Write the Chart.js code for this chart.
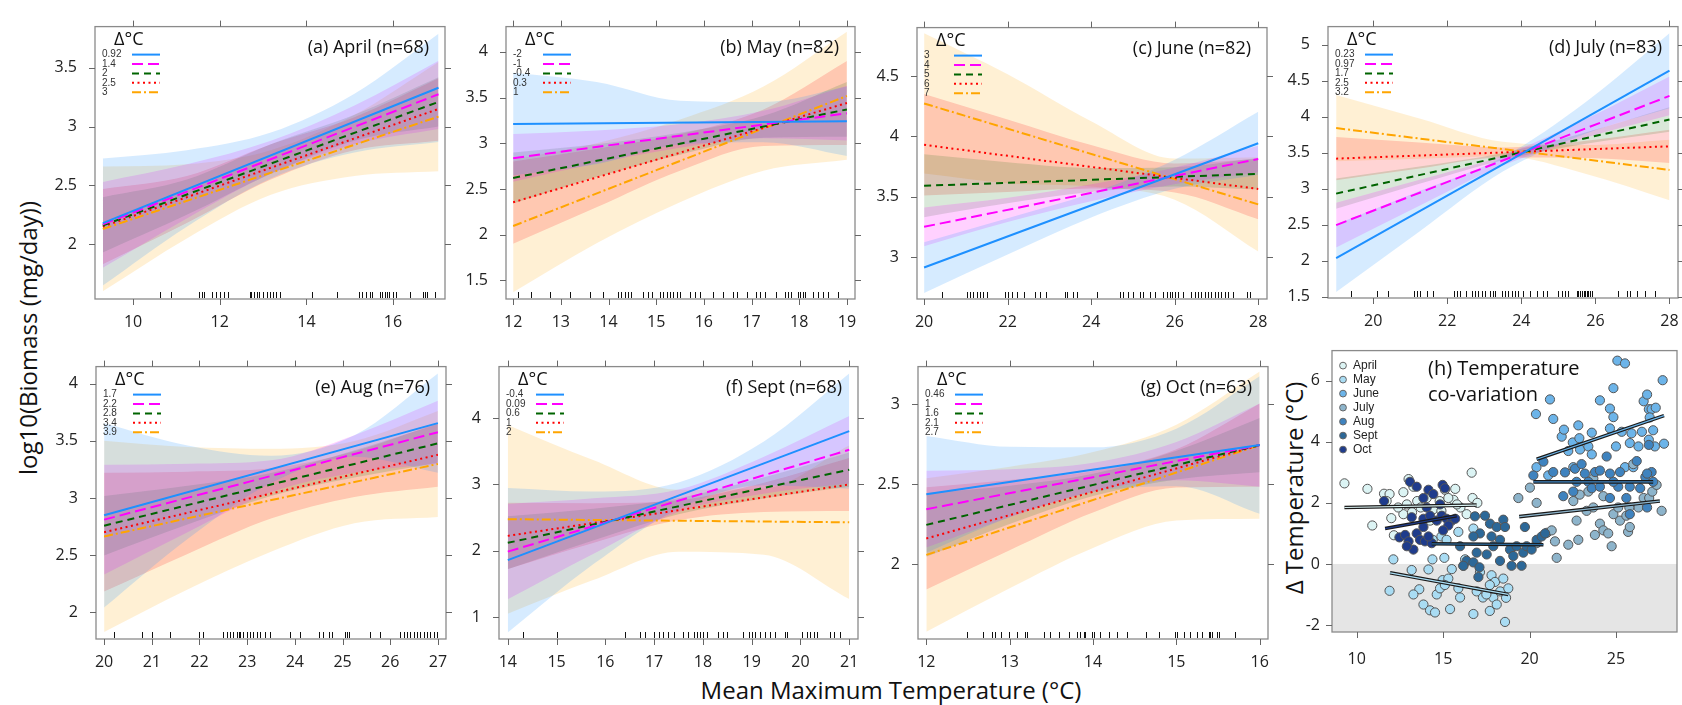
<!DOCTYPE html>
<html>
<head>
<meta charset="utf-8">
<script src="https://cdn.jsdelivr.net/npm/chart.js@4.4.1/dist/chart.umd.min.js"></script>
<style>
  body { margin: 0; background: #fff; width: 1682px; height: 705px; position: relative; overflow: hidden; font-family: 'Open Sans', sans-serif; }
  canvas { position: absolute; }
  .lbl { position: absolute; white-space: nowrap; color: #111; font-size: 24px; transform: translate(-50%, -50%); }
  .rot { transform: translate(-50%, -50%) rotate(-90deg); }
</style>
</head>
<body>
<div class="lbl rot" style="left:27px; top:338px;">log10(Biomass (mg/day))</div>
<div class="lbl" style="left:891px; top:689px;">Mean Maximum Temperature (°C)</div>
<div class="lbl rot" style="left:1293px; top:488px;">Δ Temperature (°C)</div>
<script>
// ---- data: effect panels (a)-(g) ----
// each panel: 5 Δ°C levels; fit = [start, end] of the fitted line, lo/hi = band edges at the x points
const aprDelta = ['0.92', '1.4', '2', '2.5', '3'];
const aprX = [9.3, 11.24, 13.18, 15.11, 17.05];
const aprFit = [[2.18, 3.33], [2.17, 3.275], [2.16, 3.21], [2.15, 3.15], [2.13, 3.085]];
const aprLo = [[1.65, 2.15, 2.56, 2.78, 2.87], [1.80, 2.22, 2.60, 2.85, 2.98], [1.93, 2.25, 2.60, 2.88, 3.00], [1.83, 2.18, 2.55, 2.80, 2.88], [1.60, 2.05, 2.42, 2.58, 2.62]];
const aprHi = [[2.73, 2.80, 2.95, 3.28, 3.79], [2.53, 2.68, 2.88, 3.18, 3.56], [2.40, 2.55, 2.85, 3.10, 3.42], [2.47, 2.58, 2.85, 3.08, 3.41], [2.66, 2.68, 2.80, 3.10, 3.55]];
const aprRug = [10.62, 10.88, 11.52, 11.58, 11.63, 11.81, 11.91, 12.0, 12.09, 12.19, 12.69, 12.73, 12.78, 12.85, 12.91, 13.0, 13.08, 13.15, 13.23, 13.31, 13.38, 14.12, 14.71, 15.22, 15.29, 15.38, 15.46, 15.52, 15.69, 15.75, 15.81, 15.87, 15.91, 16.0, 16.08, 16.4, 16.69, 16.73, 16.79, 16.96];
const aprXTicks = [10, 12, 14, 16];
const aprYTicks = [2, 2.5, 3, 3.5];

const mayDelta = ['-2', '-1', '-0.4', '0.3', '1'];
const mayX = [12, 13.75, 15.5, 17.25, 19];
const mayFit = [[3.21, 3.24], [2.837, 3.327], [2.62, 3.37], [2.354, 3.44], [2.095, 3.517]];
const mayLo = [[2.65, 2.77, 2.985, 3.01, 2.86], [2.58, 2.78, 2.95, 3.055, 3.03], [2.34, 2.63, 2.875, 3.06, 3.07], [1.90, 2.30, 2.70, 2.97, 2.98], [1.37, 1.905, 2.355, 2.70, 2.82]];
const mayHi = [[3.77, 3.67, 3.465, 3.45, 3.62], [3.10, 3.14, 3.21, 3.355, 3.63], [2.90, 2.99, 3.115, 3.30, 3.67], [2.80, 2.94, 3.10, 3.37, 3.90], [2.82, 3.0, 3.26, 3.62, 4.22]];
const mayRug = [12.1, 12.38, 12.77, 13.19, 13.61, 13.89, 14.2, 14.27, 14.34, 14.41, 14.48, 14.73, 14.83, 14.92, 15.08, 15.15, 15.22, 15.29, 15.36, 15.43, 15.5, 15.71, 15.81, 15.92, 16.2, 16.41, 16.62, 16.69, 16.9, 17.1, 17.17, 17.28, 17.52, 17.7, 17.77, 17.82, 17.98, 18.01, 18.08, 18.12, 18.29, 18.4, 18.5, 18.61, 18.82];
const mayXTicks = [12, 13, 14, 15, 16, 17, 18, 19];
const mayYTicks = [1.5, 2, 2.5, 3, 3.5, 4];

const junDelta = ['3', '4', '5', '6', '7'];
const junX = [20, 22, 24, 26, 28];
const junFit = [[2.916, 3.944], [3.253, 3.814], [3.592, 3.691], [3.931, 3.566], [4.273, 3.438]];
const junLo = [[2.706, 3.023, 3.33, 3.567, 3.684], [3.093, 3.293, 3.464, 3.604, 3.704], [3.332, 3.447, 3.54, 3.586, 3.561], [3.511, 3.54, 3.569, 3.537, 3.316], [3.693, 3.614, 3.586, 3.477, 3.048]];
const junHi = [[3.126, 3.323, 3.53, 3.807, 4.204], [3.413, 3.493, 3.604, 3.744, 3.924], [3.852, 3.787, 3.74, 3.746, 3.821], [4.351, 4.14, 3.929, 3.777, 3.816], [4.853, 4.514, 4.126, 3.817, 3.828]];
const junRug = [20.42, 21.02, 21.1, 21.18, 21.26, 21.34, 21.42, 21.5, 21.94, 22.02, 22.1, 22.22, 22.38, 22.66, 22.78, 22.93, 23.37, 23.41, 23.57, 23.65, 24.13, 24.69, 24.77, 24.89, 25.01, 25.17, 25.25, 25.41, 25.53, 25.73, 25.81, 25.89, 25.93, 26.0, 26.08, 26.2, 26.4, 26.48, 26.56, 26.64, 26.72, 26.8, 26.88, 26.96, 27.04, 27.12, 27.2, 27.28, 27.4, 27.72, 27.8];
const junXTicks = [20, 22, 24, 26, 28];
const junYTicks = [3, 3.5, 4, 4.5];

const julDelta = ['0.23', '0.97', '1.7', '2.5', '3.2'];
const julX = [19, 21.25, 23.5, 25.75, 28];
const julFit = [[2.034, 4.637], [2.493, 4.287], [2.93, 3.959], [3.416, 3.587], [3.84, 3.259]];
const julLo = [[1.564, 2.405, 3.236, 3.766, 4.117], [2.183, 2.762, 3.32, 3.709, 4.017], [2.72, 3.067, 3.395, 3.622, 3.789], [3.116, 3.279, 3.432, 3.424, 3.357], [3.38, 3.415, 3.45, 3.204, 2.839]];
const julHi = [[2.504, 2.965, 3.436, 4.206, 5.157], [2.803, 3.122, 3.46, 3.969, 4.557], [3.14, 3.307, 3.495, 3.782, 4.129], [3.716, 3.639, 3.572, 3.664, 3.817], [4.30, 3.975, 3.65, 3.604, 3.679]];
const julRug = [19.41, 20.09, 20.41, 21.1, 21.17, 21.26, 21.44, 21.62, 22.19, 22.25, 22.34, 22.5, 22.66, 22.75, 22.84, 22.93, 23.02, 23.15, 23.24, 23.29, 23.47, 23.56, 23.65, 23.74, 23.83, 23.92, 24.05, 24.23, 24.41, 24.59, 24.68, 25.0, 25.09, 25.18, 25.27, 25.5, 25.54, 25.59, 25.63, 25.68, 25.72, 25.77, 25.81, 25.86, 25.9, 26.62, 26.85, 26.94, 27.12, 27.34, 27.61];
const julXTicks = [20, 22, 24, 26, 28];
const julYTicks = [1.5, 2, 2.5, 3, 3.5, 4, 4.5, 5];

const augDelta = ['1.7', '2.2', '2.8', '3.4', '3.9'];
const augX = [20, 21.75, 23.5, 25.25, 27];
const augFit = [[2.848, 3.655], [2.81, 3.575], [2.757, 3.478], [2.70, 3.378], [2.663, 3.298]];
const augLo = [[2.04, 2.64, 3.13, 3.36, 3.22], [2.33, 2.70, 3.05, 3.22, 3.30], [2.497, 2.767, 3.018, 3.178, 3.308], [2.18, 2.51, 2.819, 3.008, 3.098], [1.826, 2.199, 2.53, 2.779, 2.834]];
const augHi = [[3.655, 3.46, 3.37, 3.55, 4.09], [3.29, 3.30, 3.33, 3.55, 3.85], [3.017, 3.107, 3.218, 3.418, 3.648], [3.22, 3.23, 3.259, 3.408, 3.658], [3.5, 3.445, 3.43, 3.499, 3.762]];
const augRug = [20.2, 20.79, 21.0, 21.38, 21.98, 22.08, 22.5, 22.57, 22.64, 22.71, 22.78, 22.82, 22.85, 22.92, 22.99, 23.06, 23.13, 23.2, 23.27, 23.38, 23.48, 23.9, 24.11, 24.5, 24.6, 24.71, 24.78, 25.06, 25.09, 25.13, 25.58, 25.79, 26.21, 26.28, 26.35, 26.42, 26.49, 26.56, 26.63, 26.7, 26.77, 26.84, 26.91, 26.98];
const augXTicks = [20, 21, 22, 23, 24, 25, 26, 27];
const augYTicks = [2, 2.5, 3, 3.5, 4];

const sepDelta = ['-0.4', '0.09', '0.6', '1', '2'];
const sepX = [14, 15.75, 17.5, 19.25, 21];
const sepFit = [[1.857, 3.805], [1.986, 3.524], [2.119, 3.224], [2.224, 3.0], [2.476, 2.429]];
const sepLo = [[0.767, 1.794, 2.631, 2.988, 2.935], [1.266, 1.951, 2.585, 2.86, 3.014], [1.719, 2.155, 2.552, 2.788, 2.964], [1.724, 2.118, 2.462, 2.586, 2.6], [1.05, 1.557, 1.986, 1.94, 1.27]];
const sepHi = [[2.947, 2.894, 3.031, 3.648, 4.675], [2.706, 2.791, 2.925, 3.42, 4.034], [2.519, 2.635, 2.792, 3.108, 3.484], [2.724, 2.718, 2.762, 3.026, 3.4], [3.90, 3.37, 2.92, 2.94, 3.59]];
const sepRug = [14.32, 15.0, 16.41, 16.71, 16.82, 16.99, 17.09, 17.19, 17.29, 17.4, 17.6, 17.7, 17.81, 17.88, 17.95, 18.01, 18.08, 18.32, 18.42, 18.49, 18.83, 18.94, 19.0, 19.07, 19.17, 19.28, 19.38, 19.48, 19.69, 19.72, 20.03, 20.13, 20.2, 20.27, 20.34, 20.61, 20.68, 20.81];
const sepXTicks = [14, 15, 16, 17, 18, 19, 20, 21];
const sepYTicks = [1, 2, 3, 4];

const octDelta = ['0.46', '1', '1.6', '2.1', '2.7'];
const octX = [12, 13, 14, 15, 16];
const octFit = [[2.438, 2.746], [2.345, 2.746], [2.247, 2.746], [2.162, 2.746], [2.059, 2.746]];
const octLo = [[2.073, 2.295, 2.452, 2.489, 2.316], [2.105, 2.295, 2.456, 2.526, 2.486], [2.047, 2.252, 2.427, 2.531, 2.576], [1.842, 2.088, 2.324, 2.48, 2.486], [1.579, 1.851, 2.103, 2.274, 2.286]];
const octHi = [[2.803, 2.735, 2.732, 2.849, 3.176], [2.585, 2.595, 2.636, 2.766, 3.006], [2.447, 2.492, 2.567, 2.711, 2.916], [2.482, 2.528, 2.584, 2.72, 3.006], [2.539, 2.611, 2.703, 2.874, 3.206]];
const octRug = [12.49, 12.68, 12.79, 12.83, 12.89, 12.99, 13.09, 13.19, 13.21, 13.41, 13.49, 13.59, 13.71, 13.81, 13.85, 13.89, 13.91, 13.99, 14.01, 14.09, 14.19, 14.29, 14.41, 14.63, 14.79, 14.99, 15.01, 15.09, 15.17, 15.25, 15.31, 15.39, 15.41, 15.43, 15.49, 15.51, 15.71];
const octXTicks = [12, 13, 14, 15, 16];
const octYTicks = [2, 2.5, 3];

// ---- data: panel (h) temperature co-variation, [max temp, Δ temp] ----
const monthNames = ['April', 'May', 'June', 'July', 'Aug', 'Sept', 'Oct'];
const aprilPts = [[9.29,2.64],[10.62,2.46],[10.9,1.26],[11.58,2.30],[11.9,2.29],[11.73,2.06],[12.0,1.5],[12.15,0.94],[12.7,2.35],[13.0,2.78],[13.28,2.53],[12.9,1.95],[12.7,1.63],[13.2,1.69],[13.5,2.06],[13.7,1.85],[14.25,1.42],[15.1,2.43],[15.7,2.46],[15.6,2.1],[16.0,1.85],[16.65,2.99],[16.7,2.16],[16.98,2.0],[16.36,1.63],[14.8,2.06],[14.43,1.79],[12.4,1.85],[14.05,2.16],[15.3,2.16],[15.8,1.95],[14.9,1.74]];
const mayPts = [[12.12,0.15],[11.9,-0.88],[13.18,-0.2],[13.62,-0.83],[13.86,-1.33],[14.24,-1.52],[14.53,-1.59],[14.15,-0.18],[14.38,0.15],[15.07,0.2],[14.63,-1.0],[14.82,-0.8],[14.97,-0.53],[15.3,-0.48],[15.4,-1.48],[15.5,-0.17],[15.88,-0.8],[16.17,-0.06],[16.75,-1.64],[16.94,-0.9],[17.13,-0.27],[17.3,-1.1],[17.7,-1.54],[17.8,-0.37],[17.9,-1.1],[18.0,-0.59],[18.1,-1.33],[18.3,-0.9],[18.64,-1.11],[18.77,-0.8],[18.58,-1.9],[18.48,-0.48],[17.7,-0.69],[17.5,-1.0],[15.1,-0.69],[15.98,-1.1],[13.28,-1.0],[14.4,0.79],[14.9,0.9],[15.2,0.79],[15.88,1.05],[16.75,1.16],[16.27,0.15]];
const junePts = [[20.37,4.91],[21.18,5.39],[21.37,4.75],[21.86,4.17],[21.99,4.4],[22.5,3.98],[22.82,4.54],[22.88,4.12],[22.24,3.7],[22.92,3.75],[23.6,4.3],[23.4,3.85],[23.6,3.59],[24.07,5.36],[24.65,5.09],[24.85,5.76],[24.85,4.81],[24.65,4.44],[25.0,3.85],[25.08,6.66],[25.52,6.57],[25.33,4.33],[25.9,4.28],[25.8,3.96],[26.3,3.85],[26.5,4.33],[26.6,5.33],[26.8,5.55],[26.9,5.07],[27.06,5.07],[27.3,5.12],[26.95,4.8],[27.15,4.38],[26.9,4.07],[27.25,3.85],[27.7,6.02],[27.78,3.94],[25.52,3.17],[21.08,2.9],[22.53,3.17],[26.0,3.17],[20.4,3.17]];
const julyPts = [[19.35,2.16],[20.02,2.5],[20.41,2.0],[21.0,1.02],[21.28,1.1],[21.47,0.74],[21.57,0.2],[22.24,0.63],[22.82,0.79],[22.72,1.42],[22.53,2.06],[23.3,1.74],[23.4,2.37],[23.69,1.85],[23.78,0.95],[24.07,1.32],[24.27,1.1],[24.55,1.0],[24.75,0.58],[24.85,1.63],[25.13,1.85],[25.23,1.42],[25.6,1.58],[25.7,1.05],[25.8,1.21],[26.0,3.27],[26.3,1.85],[26.6,2.16],[26.92,2.16],[27.1,2.37],[27.35,2.59],[27.64,1.74],[24.27,2.22],[22.9,2.27],[23.69,2.8],[25.77,1.85],[20.41,0.68]];
const augPts = [[20.22,2.9],[20.8,3.35],[21.37,3.01],[21.95,2.22],[22.05,3.0],[22.63,3.12],[22.72,2.69],[23.01,3.27],[23.2,2.96],[23.4,2.69],[23.6,2.48],[23.79,3.01],[24.07,2.53],[24.46,3.52],[24.65,2.96],[24.65,2.16],[25.13,2.53],[25.23,3.01],[25.6,2.16],[25.8,2.53],[26.2,3.37],[26.4,2.48],[26.8,1.85],[26.7,2.85],[26.9,3.9],[27.06,3.01],[27.15,2.69],[24.07,3.06],[22.53,2.37],[24.85,2.69],[25.8,1.63],[26.8,2.96]];
const septPts = [[16.84,1.56],[17.42,1.58],[17.71,1.32],[18.1,1.21],[18.48,1.45],[18.58,1.21],[17.13,1.0],[16.75,0.9],[17.8,0.9],[18.29,0.79],[17.9,0.58],[16.94,0.37],[16.36,0.1],[16.75,0.05],[16.17,-0.06],[17.1,-0.11],[17.04,-0.43],[17.52,0.31],[18.29,0.1],[18.87,0.47],[19.06,0.26],[19.25,0.58],[19.54,-0.06],[19.64,0.37],[19.83,0.58],[19.73,1.21],[20.12,0.47],[20.41,0.79],[20.7,0.9],[20.9,1.0],[18.96,-0.06],[15.98,0.58]];
const octPts = [[11.58,2.06],[13.08,2.69],[13.47,2.53],[13.86,2.16],[14.15,2.43],[14.43,2.29],[14.97,2.59],[15.1,2.48],[14.82,1.95],[14.05,1.85],[13.18,1.53],[13.86,1.48],[14.24,1.58],[14.63,1.42],[14.92,1.58],[15.2,1.48],[15.5,1.42],[15.7,1.48],[15.3,1.26],[15.0,1.1],[12.47,0.87],[12.8,0.95],[13.0,0.74],[13.47,1.0],[13.66,0.79],[13.95,0.74],[13.28,0.47],[12.9,0.58],[14.34,0.68],[14.15,0.9],[13.86,1.21]];
// fitted trend per month: [start, end]
const aprilTrend = [[9.29,1.85],[16.94,1.93]];
const mayTrend = [[11.93,-0.29],[18.77,-1.0]];
const juneTrend = [[20.41,3.43],[27.78,4.86]];
const julyTrend = [[19.4,1.55],[27.54,2.06]];
const augTrend = [[20.22,2.69],[27.15,2.69]];
const septTrend = [[14.34,0.66],[20.8,0.63]];
const octTrend = [[11.64,1.16],[15.78,1.58]];
const covXTicks = [10, 15, 20, 25];
const covYTicks = [-2, 0, 2, 4, 6];

// ---- styles ----
const lineColor = ['#1e90ff', '#ff00ff', '#006400', '#ff0000', '#ffa500'];
const bandColor = ['rgba(30,144,255,0.18)', 'rgba(255,0,255,0.18)', 'rgba(0,100,0,0.15)', 'rgba(255,0,0,0.17)', 'rgba(255,165,0,0.17)'];
const lineDash = [[], [11, 5], [7, 5], [2, 3.5], [9, 3, 2, 3]];
const monthColor = ['#dcf4f4', '#a9dcf3', '#6cb4e9', '#8db4cb', '#3f83bf', '#2c6898', '#1f3c8c'];

Chart.defaults.font.family = "'Open Sans', sans-serif";
Chart.defaults.color = '#222';

const M = { l: 62, t: 12, r: 16, b: 34 };

function addCanvas(box) {
  const cv = document.createElement('canvas');
  cv.width = box[2] - box[0] + M.l + M.r;
  cv.height = box[3] - box[1] + M.t + M.b;
  cv.style.left = (box[0] - M.l) + 'px';
  cv.style.top = (box[1] - M.t) + 'px';
  document.body.appendChild(cv);
  return cv;
}

function axis(range, ticks, isX, pad) {
  return {
    type: 'linear', min: range[0], max: range[1],
    afterBuildTicks: s => { s.ticks = ticks.map(v => ({ value: v })); },
    afterFit: s => { if (isX) s.height = M.b; else s.width = M.l; },
    grid: { display: false, drawTicks: false },
    border: { display: false },
    ticks: { padding: pad, font: { size: 16 }, color: '#222', autoSkip: false, maxRotation: 0, callback: v => String(v) }
  };
}

function drawFrame(chart, allSides) {
  const { ctx, chartArea: a, scales } = chart;
  ctx.save();
  ctx.strokeStyle = '#8a8a8a';
  ctx.lineWidth = 1.3;
  ctx.strokeRect(a.left, a.top, a.right - a.left, a.bottom - a.top);
  ctx.strokeStyle = '#666';
  ctx.lineWidth = 1;
  ctx.beginPath();
  scales.x.ticks.forEach(t => {
    const px = Math.round(scales.x.getPixelForValue(t.value)) + 0.5;
    ctx.moveTo(px, a.bottom); ctx.lineTo(px, a.bottom + 6);
    if (allSides) { ctx.moveTo(px, a.top); ctx.lineTo(px, a.top - 6); }
  });
  scales.y.ticks.forEach(t => {
    const py = Math.round(scales.y.getPixelForValue(t.value)) + 0.5;
    ctx.moveTo(a.left, py); ctx.lineTo(a.left - 6, py);
    if (allSides) { ctx.moveTo(a.right, py); ctx.lineTo(a.right + 6, py); }
  });
  ctx.stroke();
  ctx.restore();
}

function makeEffectPanel(p) {
  const cv = addCanvas(p.box);
  const datasets = [];
  for (let i = 0; i < 5; i++) {
    datasets.push({ data: p.fit[i].map((y, k) => ({ x: p.xs[k * (p.xs.length - 1)], y })), borderColor: lineColor[i], borderWidth: 2, borderDash: lineDash[i], pointRadius: 0, fill: false, order: 0 });
  }
  for (let i = 0; i < 5; i++) {
    datasets.push({ data: p.xs.map((x, k) => ({ x, y: p.lo[i][k] })), borderColor: 'rgba(0,0,0,0)', borderWidth: 1, pointRadius: 0, fill: false, cubicInterpolationMode: 'monotone', order: 1 });
    datasets.push({ data: p.xs.map((x, k) => ({ x, y: p.hi[i][k] })), borderColor: 'rgba(0,0,0,0)', borderWidth: 1, pointRadius: 0, fill: '-1', backgroundColor: bandColor[i], cubicInterpolationMode: 'monotone', order: 1 });
  }
  new Chart(cv, {
    type: 'line',
    data: { datasets },
    options: {
      responsive: false, animation: false, devicePixelRatio: 1,
      layout: { padding: { left: 0, top: M.t, right: M.r, bottom: 0 } },
      plugins: { legend: { display: false }, tooltip: { enabled: false } },
      scales: { x: axis(p.xr, p.xt, true, 14), y: axis(p.yr, p.yt, false, 18) }
    },
    plugins: [{
      id: 'decor',
      afterDatasetsDraw(chart) {
        const { ctx, chartArea: a, scales } = chart;
        drawFrame(chart, true);
        ctx.save();
        // rug
        ctx.strokeStyle = '#111';
        ctx.lineWidth = 1;
        ctx.beginPath();
        p.rug.forEach(v => {
          const px = Math.round(scales.x.getPixelForValue(v)) + 0.5;
          ctx.moveTo(px, a.bottom - 1); ctx.lineTo(px, a.bottom - 7);
        });
        ctx.stroke();
        // title
        ctx.fillStyle = '#111';
        ctx.font = "18px 'Open Sans'";
        ctx.textBaseline = 'middle';
        ctx.textAlign = 'right';
        ctx.fillText(p.title, a.right - 16, a.top + 21);
        // legend
        ctx.textAlign = 'left';
        ctx.fillText('Δ°C', a.left + 19, a.top + 13);
        ctx.font = "10px 'Liberation Sans'";
        for (let i = 0; i < 5; i++) {
          const y = a.top + 28 + i * 9.4;
          ctx.fillStyle = '#333';
          ctx.fillText(p.delta[i], a.left + 7, y);
          ctx.strokeStyle = lineColor[i];
          ctx.lineWidth = 2;
          ctx.setLineDash(lineDash[i]);
          ctx.beginPath();
          ctx.moveTo(a.left + 37, y); ctx.lineTo(a.left + 65, y);
          ctx.stroke();
        }
        ctx.restore();
      }
    }]
  });
}

const panels = [
  { title: '(a) April (n=68)', box: [95, 11, 445, 299], delta: aprDelta, xs: aprX, fit: aprFit, lo: aprLo, hi: aprHi, rug: aprRug, xr: [9.12, 17.2], yr: [1.535, 3.85], xt: aprXTicks, yt: aprYTicks },
  { title: '(b) May (n=82)', box: [506, 11, 855, 299], delta: mayDelta, xs: mayX, fit: mayFit, lo: mayLo, hi: mayHi, rug: mayRug, xr: [11.85, 19.17], yr: [1.296, 4.276], xt: mayXTicks, yt: mayYTicks },
  { title: '(c) June (n=82)', box: [917, 12, 1267, 299], delta: junDelta, xs: junX, fit: junFit, lo: junLo, hi: junHi, rug: junRug, xr: [19.83, 28.21], yr: [2.656, 4.9], xt: junXTicks, yt: junYTicks },
  { title: '(d) July (n=83)', box: [1328, 11, 1678, 298], delta: julDelta, xs: julX, fit: julFit, lo: julLo, hi: julHi, rug: julRug, xr: [18.78, 28.23], yr: [1.48, 5.25], xt: julXTicks, yt: julYTicks },
  { title: '(e) Aug (n=76)', box: [96, 351, 446, 639], delta: augDelta, xs: augX, fit: augFit, lo: augLo, hi: augHi, rug: augRug, xr: [19.83, 27.17], yr: [1.765, 4.15], xt: augXTicks, yt: augYTicks },
  { title: '(f) Sept (n=68)', box: [499, 351, 858, 639], delta: sepDelta, xs: sepX, fit: sepFit, lo: sepLo, hi: sepHi, rug: sepRug, xr: [13.82, 21.18], yr: [0.667, 4.78], xt: sepXTicks, yt: sepYTicks },
  { title: '(g) Oct (n=63)', box: [918, 351, 1268, 639], delta: octDelta, xs: octX, fit: octFit, lo: octLo, hi: octHi, rug: octRug, xr: [11.9, 16.1], yr: [1.533, 3.237], xt: octXTicks, yt: octYTicks }
];
panels.forEach(makeEffectPanel);

// ---- panel (h) ----
(function () {
  const box = [1332, 341, 1677, 632];
  const cv = addCanvas(box);
  const pts = [aprilPts, mayPts, junePts, julyPts, augPts, septPts, octPts];
  const trends = [aprilTrend, mayTrend, juneTrend, julyTrend, augTrend, septTrend, octTrend];
  const toXY = arr => arr.map(d => ({ x: d[0], y: d[1] }));
  const datasets = [];
  trends.forEach((t, i) => {
    datasets.push({ data: toXY(t), showLine: true, borderColor: monthColor[i], borderWidth: 1.2, pointRadius: 0, order: 0 });
    datasets.push({ data: toXY(t), showLine: true, borderColor: '#1a1a1a', borderWidth: 3.6, pointRadius: 0, order: 1 });
  });
  pts.forEach((arr, i) => {
    datasets.push({ data: toXY(arr), pointRadius: 4.6, pointBackgroundColor: monthColor[i], pointBorderColor: '#555', pointBorderWidth: 1, order: 10 - i });
  });
  new Chart(cv, {
    type: 'scatter',
    data: { datasets },
    options: {
      responsive: false, animation: false, devicePixelRatio: 1,
      layout: { padding: { left: 0, top: M.t, right: M.r, bottom: 0 } },
      plugins: { legend: { display: false }, tooltip: { enabled: false } },
      scales: { x: axis([8.57, 28.53], covXTicks, true, 18), y: axis([-2.23, 6.99], covYTicks, false, 12) }
    },
    plugins: [{
      id: 'cov',
      beforeDatasetsDraw(chart) {
        const { ctx, chartArea: a, scales } = chart;
        const y0 = scales.y.getPixelForValue(0);
        ctx.save();
        ctx.fillStyle = '#e5e5e5';
        ctx.fillRect(a.left, y0, a.right - a.left, a.bottom - y0);
        ctx.restore();
      },
      afterDatasetsDraw(chart) {
        const { ctx, chartArea: a } = chart;
        drawFrame(chart, false);
        ctx.save();
        ctx.textBaseline = 'middle';
        ctx.fillStyle = '#111';
        ctx.font = "20px 'Open Sans'";
        ctx.fillText('(h) Temperature', a.left + 96, a.top + 19);
        ctx.fillText('co-variation', a.left + 96, a.top + 45);
        ctx.font = "12px 'Liberation Sans'";
        monthNames.forEach((m, i) => {
          const y = a.top + 15 + i * 14;
          ctx.beginPath();
          ctx.arc(a.left + 11, y, 3.4, 0, Math.PI * 2);
          ctx.fillStyle = monthColor[i];
          ctx.fill();
          ctx.strokeStyle = '#666';
          ctx.lineWidth = 1;
          ctx.stroke();
          ctx.fillStyle = '#222';
          ctx.fillText(m, a.left + 21, y);
        });
        ctx.restore();
      }
    }]
  });
})();
</script>
</body>
</html>
